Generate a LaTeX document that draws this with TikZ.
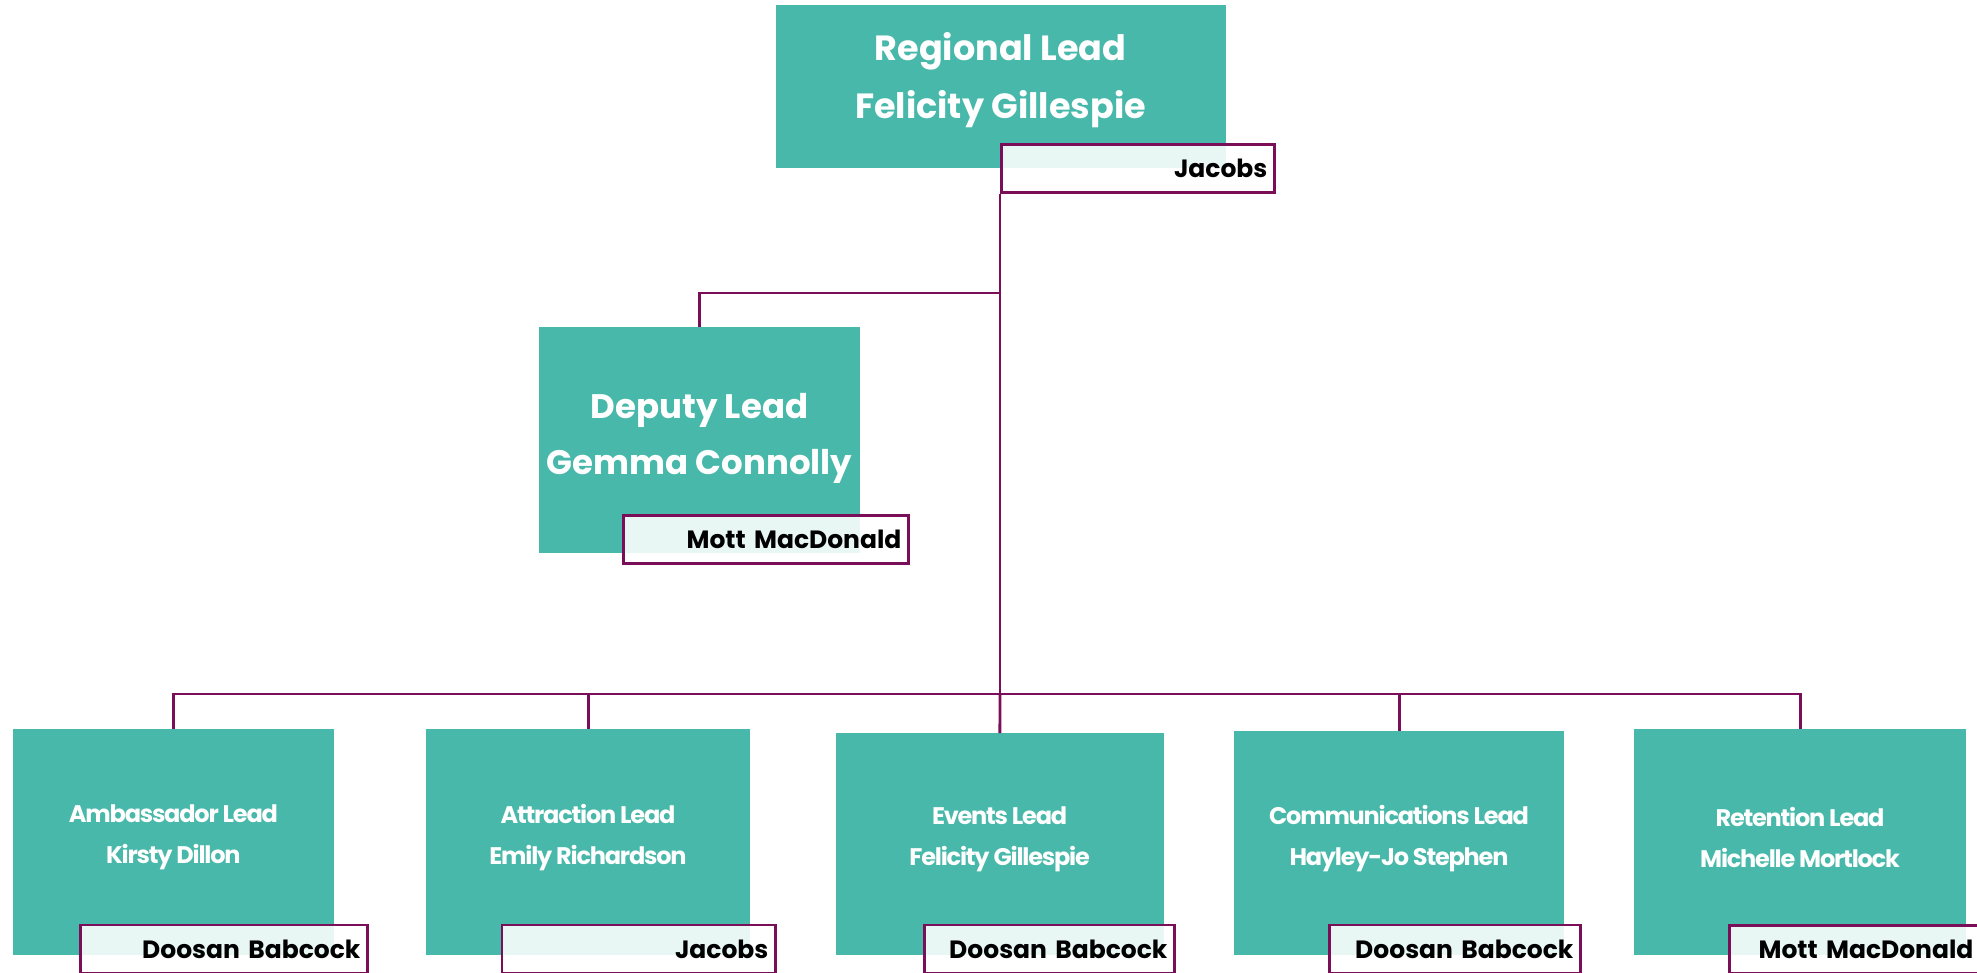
\documentclass[tikz,border=0pt]{standalone}
\usepackage{fontspec}
\setmainfont{Poppins}
\definecolor{tealbox}{RGB}{71,184,169}
\definecolor{plum}{RGB}{122,14,88}
\begin{document}
\begin{tikzpicture}[x=1pt,y=-1pt,
  box/.style={fill=tealbox, draw=none, inner sep=0pt, anchor=north west},
  tag/.style={draw=plum, line width=2.8pt, fill=white, fill opacity=0.88, text opacity=1,
    anchor=north west, inner ysep=0pt, inner xsep=7pt, align=right, text=black,
    font=\bfseries\fontsize{25}{30}\selectfont, minimum height=48pt},
  bigtxt/.style={text=white, align=center, inner sep=0pt, font=\bfseries\fontsize{35}{58}\selectfont},
  deptxt/.style={text=white, align=center, inner sep=0pt, font=\bfseries\fontsize{34}{56}\selectfont},
  smalltxt/.style={text=white, align=center, inner sep=0pt, font=\bfseries\fontsize{24}{41}\selectfont\addfontfeature{LetterSpace=-5}},
  conn/.style={draw=plum, line width=2.8pt}
]
\useasboundingbox (0,0) rectangle (1977,973);

% boxes
\node[box, minimum width=450.5pt, minimum height=163pt] (top) at (775.5,5) {};
\node[box, minimum width=321pt, minimum height=226pt] (dep) at (539,327) {};
\node[box, minimum width=321.5pt, minimum height=226pt] (amb) at (12.7,729) {};
\node[box, minimum width=324pt, minimum height=226pt] (att) at (426,729) {};
\node[box, minimum width=327.3pt, minimum height=222pt] (evt) at (836,733) {};
\node[box, minimum width=330pt, minimum height=224pt] (com) at (1234,731) {};
\node[box, minimum width=332pt, minimum height=226pt] (ret) at (1634,729) {};

% box texts
\node[bigtxt] (toptxt) at (1000.5,80.5) {Regional Lead\\Felicity Gillespie};
\node[deptxt] (deptxt) at (699.5,438) {Deputy Lead\\Gemma Connolly};
\node[smalltxt] (ambtxt) at (173.4,837.5) {Ambassador Lead\\Kirsty Dillon};
\node[smalltxt] (atttxt) at (588,837.5) {Attraction Lead\\Emily Richardson};
\node[smalltxt] (evttxt) at (999.6,839.5) {Events Lead\\Felicity Gillespie};
\node[smalltxt] (comtxt) at (1399,838.5) {Communications Lead\\Hayley-Jo Stephen};
\node[smalltxt] (rettxt) at (1800,837.5) {Retention Lead\\Michelle Mortlock};

% company tags
\node[tag, text width=259pt] (topL) at (1000,143) {Jacobs};
\node[tag, text width=271pt] (depL) at (622,514) {Mott MacDonald};
\node[tag, text width=273pt] (ambL) at (79,923.5) {Doosan Babcock};
\node[tag, text width=259.4pt] (attL) at (500.6,923.5) {Jacobs};
\node[tag, text width=236pt] (evtL) at (923,923.5) {Doosan Babcock};
\node[tag, text width=237pt] (comL) at (1328,923.5) {Doosan Babcock};
\node[tag, text width=237pt] (retL) at (1728,924) {Mott MacDonald};

% connectors
\coordinate (lowrow) at (0,694);
\coordinate (deprow) at (0,293);
\coordinate (hub) at (topL.south west |- lowrow);
\coordinate (mid) at (topL.south west |- deprow);
\draw[conn] (topL.south west) -- (hub);
\draw[conn] (mid) -| (dep.north);
\draw[conn] (hub) -| (amb.north);
\draw[conn] (hub) -| (att.north);
\draw[conn] (hub) -- (evt.north);
\draw[conn] (hub) -| (com.north);
\draw[conn] (hub) -| (ret.north);
\end{tikzpicture}
\end{document}
